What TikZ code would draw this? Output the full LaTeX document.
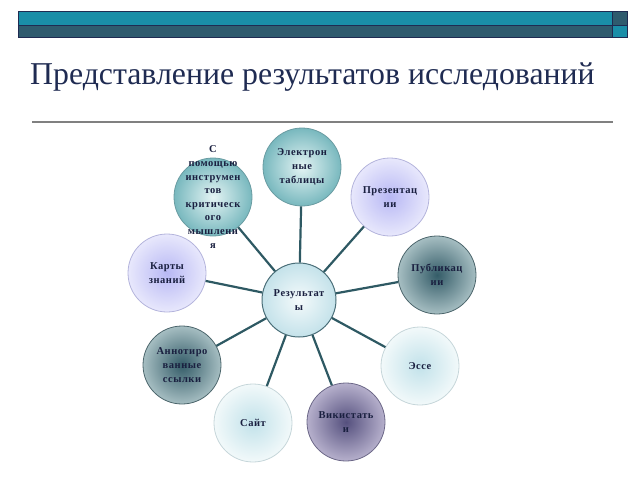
\documentclass[tikz,border=0pt]{standalone}
\usepackage{fontspec}
\setmainfont{Liberation Serif}
\newfontfamily\bubfont[LetterSpace=5]{Liberation Serif}

\definecolor{barteal}{HTML}{1A8EA8}
\definecolor{bardark}{HTML}{2F5B6E}
\definecolor{titleblue}{HTML}{1F2B52}
\definecolor{linkcol}{HTML}{2E5963}
\definecolor{textcol}{HTML}{1A2040}
% bubble colours
\definecolor{resin}{HTML}{F4FAFB}
\definecolor{resout}{HTML}{C4E2EA}
\definecolor{resline}{HTML}{4A6E78}
\definecolor{tealin}{HTML}{E4F4F4}
\definecolor{tealout}{HTML}{78B8BE}
\definecolor{tealline}{HTML}{6A9CA2}
\definecolor{lilacin}{HTML}{B8B8F4}
\definecolor{lilacout}{HTML}{E8E8FC}
\definecolor{lilacline}{HTML}{B4B4DC}
\definecolor{darkin}{HTML}{345C68}
\definecolor{darkout}{HTML}{A6BEC2}
\definecolor{darkline}{HTML}{4C666C}
\definecolor{palein}{HTML}{C2E2EA}
\definecolor{paleout}{HTML}{F2F9FA}
\definecolor{paleline}{HTML}{C6D6DA}
\definecolor{plumin}{HTML}{55507E}
\definecolor{plumout}{HTML}{B6B0CC}
\definecolor{plumline}{HTML}{6C6888}

\tikzset{
  bub/.style={circle, minimum size=78pt, inner sep=0pt, align=center,
    font=\bubfont\bfseries\fontsize{10.5}{14}\selectfont, text=textcol,
    shading=radial, line width=0.8pt},
  resbub/.style={bub, inner color=resin, outer color=resout, draw=resline, line width=1pt},
  tealbub/.style={bub, inner color=tealin, outer color=tealout, draw=tealline},
  lilacbub/.style={bub, inner color=lilacin, outer color=lilacout, draw=lilacline},
  darkbub/.style={bub, inner color=darkin, outer color=darkout, draw=darkline},
  palebub/.style={bub, inner color=palein, outer color=paleout, draw=paleline},
  plumbub/.style={bub, inner color=plumin, outer color=plumout, draw=plumline},
  link/.style={draw=linkcol, line width=2.2pt}
}

\begin{document}
\begin{tikzpicture}[x=1pt,y=-1pt]

\useasboundingbox (0,0) rectangle (640,480);

% Header bar
\fill[barteal] (18,11) rectangle (612,25);
\fill[bardark] (18,25) rectangle (612,37);
\fill[bardark] (612,11) rectangle (627,25);
\fill[barteal] (612,25) rectangle (627,37);
\draw[titleblue, line width=0.6pt] (18,11) rectangle (627,37);
\draw[titleblue, line width=0.6pt] (18,25) -- (627,25);
\draw[titleblue, line width=0.6pt] (612,11) -- (612,37);

% Title
\node[anchor=base west, inner sep=0pt, text=titleblue, font=\fontsize{31.8}{38}\selectfont]
  (title) at (30,84) {Представление результатов исследований};
\draw[gray, line width=1.2pt] (32,122) -- (613,122);

% Bubbles
\node[resbub, minimum size=74pt] (res) at (299,300) {Результат\\ы};

\node[tealbub] (tables) at (302,167) {Электрон\\ные\\таблицы};
\node[tealbub, label={[font=\bubfont\bfseries\fontsize{10.5}{13.6}\selectfont, text=textcol, align=center]center:С\\помощью\\инструмен\\тов\\критическ\\ого\\мышлени\\я}] (tools) at (213,197) {};
\node[lilacbub] (maps) at (167,273) {Карты\\знаний};
\node[lilacbub] (pres) at (390,197) {Презентац\\ии};
\node[darkbub] (pub) at (437,275) {Публикац\\ии};
\node[palebub] (essay) at (420,366) {Эссе};
\node[plumbub] (wiki) at (346,422) {Викистать\\и};
\node[palebub] (site) at (253,423) {Сайт};
\node[darkbub] (annot) at (182,365) {Аннотиро\\ванные\\ссылки};

% Links
\foreach \b in {tables,tools,maps,pres,pub,essay,wiki,site,annot}
  \draw[link] (res) -- (\b);

\end{tikzpicture}
\end{document}
